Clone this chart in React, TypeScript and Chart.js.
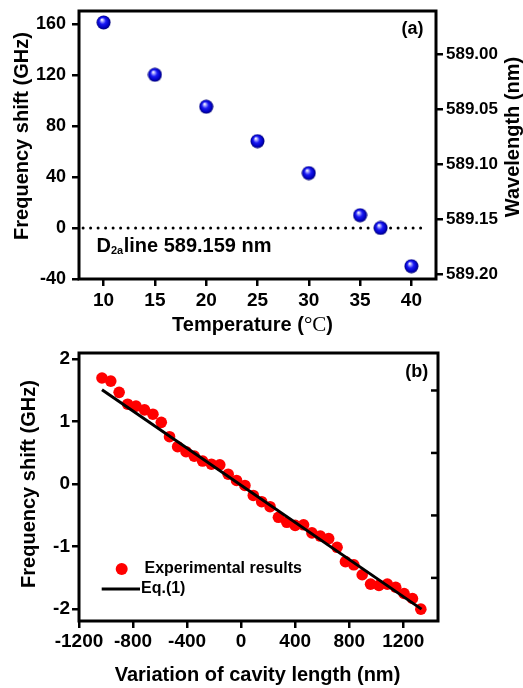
import React, { useEffect, useRef } from "react";
import { Chart, registerables } from "chart.js";
Chart.register(...registerables);

// ---------- Panel (a) data ----------
const temperatures = [10, 15, 20, 25, 30, 35, 37, 40];
const freqShiftA = [161, 120, 95, 68, 43, 10, 0, -30];
const tempTicks = [10, 15, 20, 25, 30, 35, 40];
const freqTicksA = [-40, 0, 40, 80, 120, 160];
const wavelengthTicks = [589.0, 589.05, 589.1, 589.15, 589.2];
const d2aLineX = [8, 41.1];
const d2aLineY = [0, 0];

// ---------- Panel (b) data ----------
const cavityLength = [
  -1030, -965, -903, -840, -778, -715, -653, -591, -530, -470, -408, -347, -285,
  -220, -158, -96, -34, 28, 90, 152, 214, 276, 338, 400, 462, 524, 586, 648, 710,
  772, 834, 896, 958, 1020, 1082, 1144, 1206, 1268, 1330,
];
const freqShiftB = [
  1.7, 1.65, 1.47, 1.28, 1.25, 1.19, 1.12, 0.99, 0.76, 0.6, 0.52, 0.45, 0.37,
  0.32, 0.31, 0.16, 0.06, -0.02, -0.18, -0.28, -0.36, -0.53, -0.61, -0.66, -0.65,
  -0.78, -0.83, -0.87, -1.01, -1.24, -1.29, -1.45, -1.6, -1.62, -1.6, -1.65, -1.75,
  -1.83, -2.0,
];
const eqLineX = [-1030, 1335];
const eqLineY = [1.51, -2.0];
const cavityTicks = [-1200, -800, -400, 0, 400, 800, 1200];
const freqTicksB = [-2, -1, 0, 1, 2];
const rightInnerTicksB = [1.5, 0.5, -0.5, -1.5];

const SANS = '"Liberation Sans", Arial, sans-serif';
const SERIF = '"Liberation Serif", "Times New Roman", serif';

function makeSphere(r: number): HTMLCanvasElement {
  const c = document.createElement("canvas");
  const s = Math.ceil(r * 2) + 1;
  c.width = s;
  c.height = s;
  const ctx = c.getContext("2d")!;
  const cx = s / 2;
  const cy = s / 2;
  const g = ctx.createRadialGradient(cx - r * 0.25, cy - r * 0.4, 0.3, cx, cy, r);
  g.addColorStop(0, "#ffffff");
  g.addColorStop(0.18, "#a0a0ff");
  g.addColorStop(0.45, "#1a1af5");
  g.addColorStop(0.8, "#0000c0");
  g.addColorStop(1, "#000070");
  ctx.fillStyle = g;
  ctx.beginPath();
  ctx.arc(cx, cy, r, 0, Math.PI * 2);
  ctx.fill();
  return c;
}

function tickGrid() {
  return {
    display: true,
    drawOnChartArea: false,
    drawTicks: true,
    tickLength: 7,
    tickWidth: 2.5,
    lineWidth: 2.5,
    tickColor: "#000",
    color: "#000",
  };
}

function fixSize(size: { width?: number; height?: number }) {
  return (s: any) => {
    if (size.width !== undefined) s.width = size.width;
    if (size.height !== undefined) s.height = size.height;
    s.paddingTop = 0;
    s.paddingBottom = 0;
    s.paddingLeft = 0;
    s.paddingRight = 0;
  };
}

function drawFrame(chart: any) {
  const { ctx, chartArea: ca } = chart;
  ctx.save();
  ctx.strokeStyle = "#000";
  ctx.lineWidth = 3;
  ctx.strokeRect(ca.left, ca.top, ca.right - ca.left, ca.bottom - ca.top);
  ctx.restore();
}

function drawRotated(ctx: CanvasRenderingContext2D, text: string, x: number, y: number, font: string) {
  ctx.save();
  ctx.translate(x, y);
  ctx.rotate(-Math.PI / 2);
  ctx.font = font;
  ctx.fillStyle = "#000";
  ctx.textAlign = "center";
  ctx.textBaseline = "middle";
  ctx.fillText(text, 0, 0);
  ctx.restore();
}

const plotAPlugin = {
  id: "plotA",
  afterDraw(chart: any) {
    const ctx: CanvasRenderingContext2D = chart.ctx;
    drawFrame(chart);
    drawRotated(ctx, "Frequency shift (GHz)", 22, 136, `bold 20px ${SANS}`);
    drawRotated(ctx, "Wavelength (nm)", 513, 137, `bold 20px ${SANS}`);
    ctx.save();
    ctx.fillStyle = "#000";
    ctx.textBaseline = "middle";
    ctx.textAlign = "left";
    const p1 = "Temperature (";
    const p2 = "°C";
    const p3 = ")";
    const f1 = `bold 20px ${SANS}`;
    const f2 = `21px ${SERIF}`;
    ctx.font = f1;
    const w1 = ctx.measureText(p1).width;
    const w3 = ctx.measureText(p3).width;
    ctx.font = f2;
    const w2 = ctx.measureText(p2).width;
    let x = 252.5 - (w1 + w2 + w3) / 2;
    const y = 325;
    ctx.font = f1;
    ctx.fillText(p1, x, y);
    x += w1;
    ctx.font = f2;
    ctx.fillText(p2, x, y + 0.5);
    x += w2;
    ctx.font = f1;
    ctx.fillText(p3, x, y);
    ctx.font = `bold 18px ${SANS}`;
    ctx.textAlign = "center";
    ctx.fillText("(a)", 412.5, 29);
    ctx.textAlign = "left";
    ctx.textBaseline = "alphabetic";
    ctx.font = `bold 20px ${SANS}`;
    let tx = 96.5;
    ctx.fillText("D", tx, 252.3);
    tx += ctx.measureText("D").width;
    ctx.font = `bold 11px ${SANS}`;
    ctx.fillText("2a", tx, 254);
    tx += ctx.measureText("2a").width + 0.5;
    ctx.font = `bold 20px ${SANS}`;
    ctx.fillText("line 589.159 nm", tx, 252.3);
    ctx.restore();
  },
};

const plotBPlugin = {
  id: "plotB",
  afterDraw(chart: any) {
    const ctx: CanvasRenderingContext2D = chart.ctx;
    const ca = chart.chartArea;
    drawFrame(chart);
    ctx.save();
    ctx.strokeStyle = "#000";
    ctx.lineWidth = 2.5;
    for (const v of rightInnerTicksB) {
      const py = chart.scales.y.getPixelForValue(v);
      ctx.beginPath();
      ctx.moveTo(ca.right, py);
      ctx.lineTo(ca.right - 7, py);
      ctx.stroke();
    }
    ctx.restore();
    drawRotated(ctx, "Frequency shift (GHz)", 29.5, 144, `bold 20px ${SANS}`);
    ctx.save();
    ctx.fillStyle = "#000";
    ctx.font = `bold 20px ${SANS}`;
    ctx.textAlign = "center";
    ctx.textBaseline = "middle";
    ctx.fillText("Variation of cavity length (nm)", 257.5, 335);
    ctx.font = `bold 18px ${SANS}`;
    ctx.fillText("(b)", 416.7, 32.3);
    ctx.fillStyle = "#ff0000";
    ctx.beginPath();
    ctx.arc(121.7, 229, 6, 0, Math.PI * 2);
    ctx.fill();
    ctx.strokeStyle = "#000";
    ctx.lineWidth = 3;
    ctx.beginPath();
    ctx.moveTo(101.7, 249);
    ctx.lineTo(140, 249);
    ctx.stroke();
    ctx.fillStyle = "#000";
    ctx.font = `bold 16px ${SANS}`;
    ctx.textAlign = "left";
    ctx.fillText("Experimental results", 144.5, 229);
    ctx.fillText("Eq.(1)", 141, 249);
    ctx.restore();
  },
};

export default function App() {
  const refA = useRef<HTMLCanvasElement>(null);
  const refB = useRef<HTMLCanvasElement>(null);

  useEffect(() => {
    const sphere = makeSphere(7);
    const chartA = new Chart(refA.current!, {
      type: "scatter",
      data: {
        datasets: [
          {
            data: temperatures.map((t, i) => ({ x: t, y: freqShiftA[i] })),
            pointStyle: sphere as any,
            pointRadius: 7,
            pointHoverRadius: 7,
          },
          {
            data: d2aLineX.map((t, i) => ({ x: t, y: d2aLineY[i] })),
            showLine: true,
            borderColor: "#000",
            borderWidth: 3,
            borderDash: [0, 7.5],
            borderCapStyle: "round",
            pointRadius: 0,
          } as any,
        ],
      },
      options: {
        animation: false,
        responsive: false,
        events: [],
        layout: { padding: { top: 11, left: 0, right: 0, bottom: 0 } },
        plugins: { legend: { display: false }, tooltip: { enabled: false } },
        scales: {
          x: {
            type: "linear",
            min: 7.6,
            max: 42.4,
            afterBuildTicks: (s: any) => {
              s.ticks = tempTicks.map((v) => ({ value: v }));
            },
            afterFit: fixSize({ height: 61 }),
            grid: tickGrid() as any,
            border: { display: false },
            ticks: {
              font: { family: SANS, size: 19, weight: "bold" },
              color: "#000",
              padding: 3,
              maxRotation: 0,
              autoSkip: false,
              callback: (v: any) => String(v),
            },
          },
          y: {
            type: "linear",
            min: -40,
            max: 170,
            afterBuildTicks: (s: any) => {
              s.ticks = freqTicksA.map((v) => ({ value: v }));
            },
            afterFit: fixSize({ width: 79 }),
            grid: tickGrid() as any,
            border: { display: false },
            ticks: {
              font: { family: SANS, size: 18, weight: "bold" },
              color: "#000",
              padding: 6,
              autoSkip: false,
              callback: (v: any) => String(v),
            },
          },
          y2: {
            type: "linear",
            position: "right",
            reverse: true,
            min: 588.9606,
            max: 589.2046,
            afterBuildTicks: (s: any) => {
              s.ticks = wavelengthTicks.map((v) => ({ value: v }));
            },
            afterFit: fixSize({ width: 87 }),
            grid: tickGrid() as any,
            border: { display: false },
            ticks: {
              font: { family: SANS, size: 17, weight: "bold" },
              color: "#000",
              padding: 3,
              autoSkip: false,
              callback: (v: any) => Number(v).toFixed(2),
            },
          },
        },
      },
      plugins: [plotAPlugin],
    });

    const chartB = new Chart(refB.current!, {
      type: "scatter",
      data: {
        datasets: [
          {
            data: eqLineX.map((t, i) => ({ x: t, y: eqLineY[i] })),
            showLine: true,
            borderColor: "#000",
            borderWidth: 3,
            pointRadius: 0,
          },
          {
            data: cavityLength.map((t, i) => ({ x: t, y: freqShiftB[i] })),
            pointRadius: 5.8,
            pointHoverRadius: 5.8,
            backgroundColor: "#ff0000",
            borderWidth: 0,
          },
        ],
      },
      options: {
        animation: false,
        responsive: false,
        events: [],
        layout: { padding: { top: 13, left: 0, right: 85, bottom: 0 } },
        plugins: { legend: { display: false }, tooltip: { enabled: false } },
        scales: {
          x: {
            type: "linear",
            min: -1200,
            max: 1457,
            afterBuildTicks: (s: any) => {
              s.ticks = cavityTicks.map((v) => ({ value: v }));
            },
            afterFit: fixSize({ height: 67 }),
            grid: tickGrid() as any,
            border: { display: false },
            ticks: {
              font: { family: SANS, size: 19, weight: "bold" },
              color: "#000",
              padding: 2,
              maxRotation: 0,
              autoSkip: false,
              callback: (v: any) => String(v),
            },
          },
          y: {
            type: "linear",
            min: -2.19,
            max: 2.1,
            afterBuildTicks: (s: any) => {
              s.ticks = freqTicksB.map((v) => ({ value: v }));
            },
            afterFit: fixSize({ width: 79 }),
            grid: tickGrid() as any,
            border: { display: false },
            ticks: {
              font: { family: SANS, size: 19, weight: "bold" },
              color: "#000",
              padding: 2,
              autoSkip: false,
              callback: (v: any) => String(v),
            },
          },
        },
      },
      plugins: [plotBPlugin],
    });

    return () => {
      chartA.destroy();
      chartB.destroy();
    };
  }, []);

  return (
    <div style={{ position: "absolute", left: 0, top: 0, width: 523, height: 688, background: "#fff" }}>
      <canvas ref={refA} width={523} height={340} style={{ position: "absolute", left: 0, top: 0, display: "block" }} />
      <canvas ref={refB} width={523} height={348} style={{ position: "absolute", left: 0, top: 340, display: "block" }} />
    </div>
  );
}
